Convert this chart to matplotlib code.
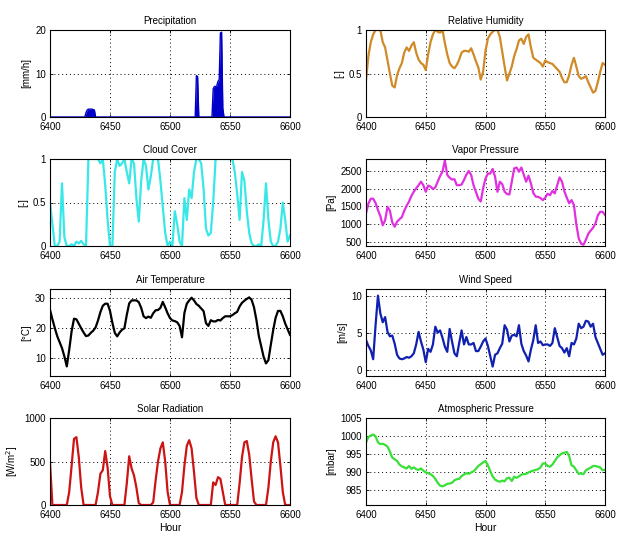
import numpy as np
import matplotlib
matplotlib.use("Agg")
import matplotlib.pyplot as plt

plt.rcParams['font.family'] = ['Liberation Sans', 'DejaVu Sans']
plt.rcParams['font.size'] = 7

# ---------------- data ----------------
hours = np.arange(6400, 6601, 2)          # 2-hourly samples
hours_1h = np.arange(6400, 6601)          # hourly samples (precipitation)

precip_event_hours = [6429, 6430, 6431, 6432, 6433, 6434, 6435, 6436, 6437, 6438,
                      6521, 6522, 6523, 6524,
                      6535, 6536, 6537, 6538, 6539, 6540, 6541, 6542, 6543, 6544, 6545]
precip_event_values = [0, 1.0, 1.6, 1.8, 1.8, 1.8, 1.8, 1.7, 1.6, 0,
                       0, 9.5, 9.3, 0,
                       0, 6.5, 7.0, 7.0, 7.2, 8.2, 8.6, 19.3, 19.5, 2.0, 0]

rel_humidity = [0.42, 0.70, 0.86, 0.95, 1.0, 1.0, 1.0, 0.86, 0.80, 0.65,
                0.50, 0.36, 0.34, 0.48, 0.56, 0.62, 0.74, 0.80, 0.76, 0.82,
                0.86, 0.74, 0.66, 0.62, 0.60, 0.54, 0.72, 0.86, 0.95, 1.0,
                0.98, 0.97, 1.0, 0.85, 0.72, 0.62, 0.58, 0.56, 0.60, 0.66,
                0.74, 0.76, 0.76, 0.75, 0.79, 0.72, 0.64, 0.57, 0.43, 0.52,
                0.76, 0.90, 0.95, 0.98, 1.0, 1.0, 0.92, 0.75, 0.58, 0.42,
                0.50, 0.58, 0.70, 0.78, 0.88, 0.90, 0.84, 0.92, 0.95, 0.80,
                0.68, 0.66, 0.64, 0.62, 0.58, 0.65, 0.63, 0.62, 0.61, 0.58,
                0.55, 0.52, 0.45, 0.40, 0.40, 0.48, 0.60, 0.68, 0.58, 0.47,
                0.44, 0.45, 0.47, 0.40, 0.34, 0.28, 0.30, 0.40, 0.52, 0.62,
                0.60]

cloud_cover = [0.50, 0.25, 0.0, 0.0, 0.05, 0.72, 0.10, 0.0, 0.0, 0.02,
               0.0, 0.05, 0.03, 0.06, 0.02, 0.0, 1.0, 1.0, 1.0, 1.0,
               1.0, 0.95, 1.0, 0.70, 0.30, 0.0, 0.0, 0.85, 1.0, 0.92,
               0.95, 1.0, 0.85, 0.72, 1.0, 0.95, 0.55, 0.28, 0.75, 1.0,
               0.92, 0.65, 0.80, 1.0, 1.0, 1.0, 0.75, 0.45, 0.15, 0.0,
               0.05, 0.0, 0.40, 0.25, 0.05, 0.0, 0.55, 0.30, 0.65, 0.55,
               0.85, 1.0, 1.0, 0.95, 0.65, 0.20, 0.12, 0.15, 0.50, 1.0,
               1.0, 1.0, 1.0, 1.0, 1.0, 1.0, 1.0, 0.85, 0.60, 0.30,
               0.85, 0.75, 0.40, 0.15, 0.03, 0.0, 0.0, 0.02, 0.0, 0.30,
               0.72, 0.30, 0.05, 0.0, 0.0, 0.05, 0.20, 0.50, 0.30, 0.05,
               0.12]

vapor_pressure = [1300, 1580, 1720, 1720, 1600, 1400, 1230, 970, 1110, 1490,
                  1380, 1050, 930, 1070, 1140, 1200, 1380, 1520, 1640, 1800,
                  1920, 2010, 2100, 2200, 2100, 1915, 2090, 2060, 1990, 2040,
                  2200, 2360, 2480, 2800, 2390, 2310, 2260, 2270, 2100, 2100,
                  2120, 2250, 2400, 2500, 2390, 2100, 1910, 1720, 1640, 2010,
                  2290, 2430, 2430, 2560, 2340, 1915, 2200, 2130, 1920, 1850,
                  1840, 2200, 2575, 2600, 2480, 2600, 2400, 2200, 2370, 2150,
                  1880, 1780, 1770, 1740, 1680, 1750, 1860, 1820, 1940, 1870,
                  2100, 2320, 2200, 1930, 1750, 1590, 1680, 1540, 1000, 600,
                  450, 420, 560, 730, 820, 900, 1020, 1250, 1350, 1350,
                  1260]

air_temperature = [26.2, 23.0, 20.1, 17.4, 15.4, 13.4, 10.6, 7.3, 12.8, 19.0,
                   23.2, 23.0, 21.5, 20.0, 18.6, 17.4, 17.6, 18.5, 19.2, 20.3,
                   22.6, 25.4, 27.5, 28.2, 28.2, 25.8, 21.8, 18.5, 17.3, 18.6,
                   19.5, 20.0, 24.5, 28.3, 29.3, 29.3, 29.3, 28.7, 26.8, 24.0,
                   23.4, 23.9, 23.5, 25.0, 26.0, 26.1, 26.8, 28.8, 27.0, 25.0,
                   23.4, 22.6, 22.4, 22.0, 20.8, 17.0, 25.1, 28.2, 29.3, 30.2,
                   29.3, 28.1, 27.5, 26.6, 25.7, 21.7, 20.8, 22.7, 22.3, 22.3,
                   22.8, 22.6, 23.4, 24.0, 24.0, 24.0, 24.4, 25.0, 25.5, 27.3,
                   28.5, 29.2, 29.8, 30.3, 29.5, 27.0, 22.8, 17.5, 14.0, 10.5,
                   8.3, 9.4, 14.5, 19.4, 23.5, 25.8, 25.8, 24.0, 21.6, 19.7,
                   17.8]

wind_speed = [4.0, 3.2, 2.6, 1.4, 6.0, 10.0, 7.6, 6.4, 7.1, 5.1,
              4.5, 4.6, 3.5, 2.0, 1.5, 1.4, 1.5, 1.7, 1.6, 1.8,
              2.2, 3.4, 5.1, 3.8, 2.7, 1.0, 2.8, 2.4, 3.4, 5.8,
              5.0, 5.3, 4.3, 3.1, 2.4, 5.5, 3.8, 2.2, 1.8, 3.6,
              5.3, 3.4, 4.4, 3.4, 3.4, 3.6, 2.5, 2.5, 3.1, 3.8,
              4.2, 3.2, 1.8, 0.4, 2.0, 2.2, 2.9, 3.5, 6.0, 5.4,
              3.8, 4.6, 4.7, 4.5, 6.0, 3.5, 2.5, 1.9, 1.1, 2.7,
              4.0, 6.0, 3.6, 3.8, 3.3, 3.4, 3.4, 3.2, 3.6, 5.6,
              4.4, 3.2, 2.9, 2.3, 2.9, 1.8, 3.6, 3.4, 4.2, 6.2,
              5.6, 5.8, 6.6, 6.5, 5.8, 6.2, 4.4, 3.6, 2.8, 2.0,
              2.2]

solar_radiation = [490, 0, 0, 0, 0, 0, 0, 0, 150, 450,
                   760, 780, 550, 200, 0, 0, 0, 0, 0, 0,
                   150, 360, 400, 620, 430, 100, 0, 0, 0, 0,
                   0, 0, 250, 560, 420, 340, 200, 20, 0, 0,
                   0, 0, 0, 30, 280, 500, 650, 720, 500, 150,
                   0, 0, 0, 0, 0, 150, 450, 680, 745, 650,
                   380, 80, 0, 0, 0, 0, 0, 0, 260, 230,
                   320, 300, 150, 0, 0, 0, 0, 0, 0, 250,
                   550, 720, 735, 580, 300, 40, 0, 0, 0, 0,
                   0, 200, 500, 720, 790, 720, 450, 150, 0, 0,
                   0]

atm_pressure = [998.1, 999.7, 1000.1, 1000.4, 999.9, 998.2, 997.7, 997.8, 997.5, 997.0,
                995.6, 993.9, 993.5, 993.0, 992.0, 991.5, 991.2, 990.9, 991.6, 990.8,
                991.2, 990.7, 990.5, 990.9, 990.3, 989.8, 989.6, 989.3, 988.8, 988.0,
                986.9, 986.1, 985.9, 986.2, 986.6, 986.7, 986.9, 987.6, 987.9, 988.0,
                988.8, 989.2, 989.6, 989.4, 989.8, 990.1, 990.8, 991.6, 992.1, 992.6,
                993.0, 991.8, 990.1, 988.7, 987.8, 987.4, 987.2, 987.5, 987.3, 988.2,
                988.3, 987.4, 988.6, 988.3, 988.7, 989.2, 989.3, 989.4, 989.8, 990.1,
                990.3, 990.5, 990.7, 991.2, 992.3, 992.3, 991.6, 991.4, 992.0, 993.0,
                994.0, 994.6, 995.1, 995.3, 995.5, 994.4, 991.8, 991.4, 990.4, 989.4,
                989.5, 989.3, 990.4, 990.8, 991.1, 991.6, 991.6, 991.4, 991.2, 990.4,
                990.5]

x_ticks = [6400, 6450, 6500, 6550, 6600]

# build hourly precipitation table
precip = np.zeros(len(hours_1h))
for h, v in zip(precip_event_hours, precip_event_values):
    precip[h - 6400] = v

# ---------------- figure ----------------
fig = plt.figure(figsize=(6.29, 5.47), dpi=100)

W, H = 629, 547
def pos(x0, y_top, w, h):
    return [x0 / W, 1 - (y_top + h) / H, w / W, h / H]

row_tops = [30, 159, 289, 418]
row_h = 87
lx, lw = 50, 240
rx, rw = 366, 239

def style(ax, title, ylabel, ylim, yticks, xlabel=None):
    ax.set_xlim(6400, 6600)
    ax.set_ylim(*ylim)
    ax.set_xticks(x_ticks)
    ax.set_yticks(yticks)
    ax.set_title(title, fontsize=7, pad=4)
    ax.set_ylabel(ylabel, fontsize=7, labelpad=3)
    if xlabel:
        ax.set_xlabel(xlabel, fontsize=7.5, labelpad=2)
    ax.grid(True, color='black', linestyle=(0, (1, 3)), linewidth=0.7)
    ax.tick_params(direction='in', length=2.5, width=0.6, top=True, right=True,
                   labelsize=7)
    ax.tick_params(axis='x', pad=3.5)
    ax.tick_params(axis='y', pad=3)
    for s in ax.spines.values():
        s.set_linewidth(0.8)
        s.set_zorder(5)
    ax.set_axisbelow(True)

# Precipitation
ax = fig.add_axes(pos(lx, row_tops[0], lw, row_h))
ax.fill_between(hours_1h, precip, 0, color='#0000c8', linewidth=0)
ax.plot(hours_1h, precip, color='#0000c8', linewidth=1.0)
style(ax, 'Precipitation', '[mm/h]', (0, 20), [0, 10, 20])

# Relative Humidity
ax = fig.add_axes(pos(rx, row_tops[0], rw, row_h))
ax.plot(hours, rel_humidity, color='#d08a28', linewidth=1.6)
style(ax, 'Relative Humidity', '[-]', (0, 1), [0, 0.5, 1])
ax.set_yticklabels(['0', '0.5', '1'])

# Cloud Cover
ax = fig.add_axes(pos(lx, row_tops[1], lw, row_h))
ax.plot(hours, cloud_cover, color='#38e8e8', linewidth=1.6)
style(ax, 'Cloud Cover', '[-]', (0, 1), [0, 0.5, 1])
ax.set_yticklabels(['0', '0.5', '1'])

# Vapor Pressure
ax = fig.add_axes(pos(rx, row_tops[1], rw, row_h))
ax.plot(hours, vapor_pressure, color='#e030e0', linewidth=1.6)
style(ax, 'Vapor Pressure', '[Pa]', (385, 2840), [500, 1000, 1500, 2000, 2500])

# Air Temperature
ax = fig.add_axes(pos(lx, row_tops[2], lw, row_h))
ax.plot(hours, air_temperature, color='black', linewidth=1.6)
style(ax, 'Air Temperature', '[°C]', (4.1, 33.1), [10, 20, 30])

# Wind Speed
ax = fig.add_axes(pos(rx, row_tops[2], rw, row_h))
ax.plot(hours, wind_speed, color='#1020b0', linewidth=1.6)
style(ax, 'Wind Speed', '[m/s]', (-0.87, 10.9), [0, 5, 10])

# Solar Radiation
ax = fig.add_axes(pos(lx, row_tops[3], lw, row_h))
ax.plot(hours, solar_radiation, color='#cc1414', linewidth=1.6)
style(ax, 'Solar Radiation', '[W/m$^2$]', (0, 1000), [0, 500, 1000], xlabel='Hour')

# Atmospheric Pressure
ax = fig.add_axes(pos(rx, row_tops[3], rw, row_h))
ax.plot(hours, atm_pressure, color='#38e038', linewidth=1.6)
style(ax, 'Atmospheric Pressure', '[mbar]', (980.7, 1005), [985, 990, 995, 1000, 1005],
      xlabel='Hour')

fig.savefig('out.png', dpi=100)
